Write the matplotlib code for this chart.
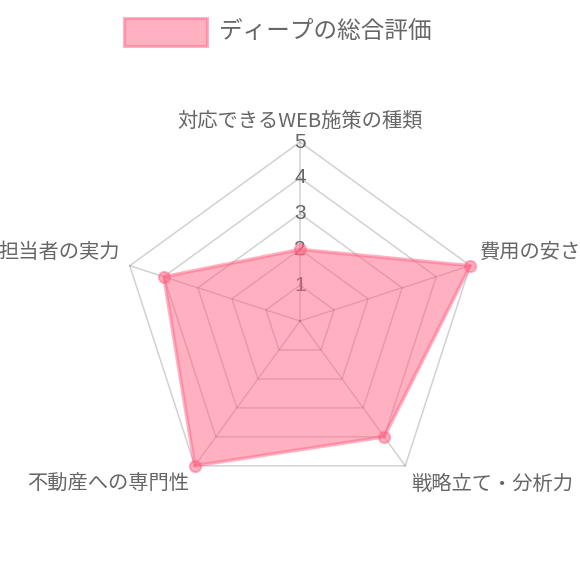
import numpy as np
import matplotlib
matplotlib.use("Agg")
import matplotlib.pyplot as plt
from matplotlib.patches import Rectangle

plt.rcParams['font.family'] = ['Noto Sans CJK JP', 'DejaVu Sans']

labels = ['対応できるWEB施策の種類', '費用の安さ', '戦略立て・分析力', '不動産への専門性', '担当者の実力']
scores = [2, 5, 4, 5, 4]
ticks = [1, 2, 3, 4, 5]
series_name = 'ディープの総合評価'

fill_col = (255 / 255, 99 / 255, 132 / 255, 0.5)
grid_col = (0, 0, 0, 0.18)
text_col = '#666666'

cx, cy, R = 300, 321, 179
vmax = 5
n = len(labels)
theta = np.arange(n) * 2 * np.pi / n


def to_xy(val, ang):
    r = R * val / vmax
    return cx + r * np.sin(ang), cy - r * np.cos(ang)


fig = plt.figure(figsize=(5.8, 5.8), dpi=100)
ax = fig.add_axes([0, 0, 1, 1])
ax.set_xlim(0, 580)
ax.set_ylim(580, 0)
ax.axis('off')

# grid rings
for t in ticks:
    pts = [to_xy(t, a) for a in theta]
    pts.append(pts[0])
    xs, ys = zip(*pts)
    ax.plot(xs, ys, color=grid_col, lw=1.1, zorder=1)

# angle lines
for a in theta:
    x1, y1 = to_xy(vmax, a)
    ax.plot([cx, x1], [cy, y1], color=grid_col, lw=1.1, zorder=1)

# point labels
pad = 10
for lab, a in zip(labels, theta):
    lx = cx + (R + pad) * np.sin(a)
    ly = cy - (R + pad) * np.cos(a)
    s = np.sin(a)
    ha = 'center' if abs(s) < 0.1 else ('left' if s > 0 else 'right')
    va = 'bottom' if np.cos(a) > 0 else 'top'
    ax.text(lx, ly, lab, ha=ha, va=va, fontsize=14.6, color=text_col, zorder=2)

# tick labels
for t in ticks:
    tx, ty = to_xy(t, 0)
    ax.text(tx, ty, str(t), ha='center', va='center', fontsize=15,
            color=text_col, family='Liberation Sans', zorder=2)

# dataset
pts = [to_xy(v, a) for v, a in zip(scores, theta)]
xs, ys = zip(*(pts + [pts[0]]))
ax.fill(xs, ys, color=fill_col, lw=0, zorder=3)
ax.plot(xs, ys, color=fill_col, lw=2.5, zorder=4, solid_joinstyle='miter')
ax.plot(xs[:-1], ys[:-1], 'o', ms=8, color=fill_col, mec=fill_col, mew=1.5,
        ls='none', zorder=5)

# legend
ax.add_patch(Rectangle((124, 18), 83, 28, facecolor=fill_col,
                       edgecolor=fill_col, lw=2.2, zorder=6))
ax.text(219, 32, series_name, ha='left', va='center', fontsize=17,
        color=text_col, zorder=6)

fig.savefig('out.png', dpi=100)
